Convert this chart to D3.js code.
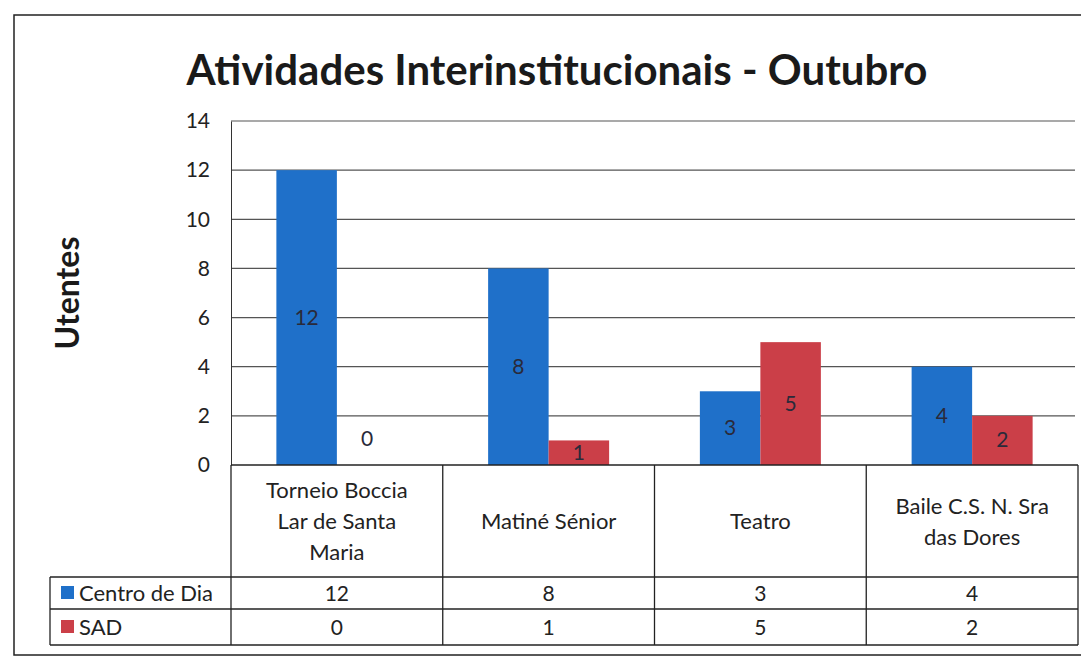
<!DOCTYPE html>
<html>
<head>
<meta charset="utf-8">
<script src="https://cdn.jsdelivr.net/npm/d3@7"></script>
<style>
  body { margin: 0; background: #fff; }
  svg { display: block; font-family: Lato, "Open Sans", sans-serif; }
</style>
</head>
<body>
<svg id="chart" width="1081" height="662"></svg>
<script>
// chart data
const categories = ["Torneio Boccia\nLar de Santa\nMaria", "Matiné Sénior", "Teatro", "Baile C.S. N. Sra\ndas Dores"];
const seriesNames = ["Centro de Dia", "SAD"];
const centroDia = [12, 8, 3, 4];
const sad = [0, 1, 5, 2];
const yTicks = [0, 2, 4, 6, 8, 10, 12, 14];
const colors = ["#1f70c9", "#cb3f48"];

const svg = d3.select("svg#chart");
const seriesValues = [centroDia, sad];

// layout
const plotLeft = 231, plotRight = 1078, plotTop = 121, plotBottom = 465;
const headerBottom = 577, row1Bottom = 609, tableBottom = 645, legendLeft = 50;

const y = d3.scaleLinear().domain([0, 14]).range([plotBottom, plotTop]);
const x0 = d3.scaleBand().domain(categories).range([plotLeft, plotRight]);
const x1 = d3.scaleBand().domain(seriesNames).range([0, x0.bandwidth()]).paddingOuter(0.75);

// outer frame
svg.append("rect")
    .attr("x", 14).attr("y", 15)
    .attr("width", 1100).attr("height", 640)
    .attr("fill", "none").attr("stroke", "#222").attr("stroke-width", 1.5);

// title
svg.append("text")
    .attr("x", 557).attr("y", 85)
    .attr("text-anchor", "middle")
    .attr("font-size", 42).attr("font-weight", "bold")
    .attr("fill", "#1a1a1a")
    .text("Atividades Interinstitucionais - Outubro");

// y axis title
svg.append("text")
    .attr("transform", "translate(79,293) rotate(-90)")
    .attr("text-anchor", "middle")
    .attr("font-size", 32).attr("font-weight", "bold")
    .attr("fill", "#1a1a1a")
    .text("Utentes");

// gridlines
svg.append("g").selectAll("line")
    .data(yTicks.filter(d => d > 0))
    .join("line")
    .attr("x1", plotLeft).attr("x2", plotRight - 3)
    .attr("y1", d => y(d)).attr("y2", d => y(d))
    .attr("stroke", "#555").attr("stroke-width", 1.2);

// y axis
const yAxis = svg.append("g")
    .attr("transform", `translate(${plotLeft},0)`)
    .call(d3.axisLeft(y).tickValues(yTicks).tickSize(0).tickPadding(21));
yAxis.select(".domain").attr("stroke", "#333");
yAxis.selectAll("text").attr("font-size", 21).attr("fill", "#222")
    .attr("font-family", "Lato, sans-serif");

// bars
const groups = svg.append("g").selectAll("g")
    .data(categories)
    .join("g")
    .attr("transform", d => `translate(${x0(d)},0)`);

groups.selectAll("rect")
    .data((d, i) => seriesNames.map((s, k) => ({ s, v: seriesValues[k][i] })))
    .join("rect")
    .attr("x", d => x1(d.s))
    .attr("width", x1.bandwidth())
    .attr("y", d => y(d.v))
    .attr("height", d => plotBottom - y(d.v))
    .attr("fill", (d, k) => colors[k]);

// bar value labels
groups.selectAll("text")
    .data((d, i) => seriesNames.map((s, k) => ({ s, v: seriesValues[k][i] })))
    .join("text")
    .attr("x", d => x1(d.s) + x1.bandwidth() / 2)
    .attr("y", d => d.v === 0 ? plotBottom - 19 : (y(d.v) + plotBottom) / 2 + 7)
    .attr("text-anchor", "middle")
    .attr("font-size", 21)
    .attr("fill", "#2a2a3a")
    .text(d => d.v);

// data table lines
const table = svg.append("g").attr("stroke", "#222").attr("stroke-width", 1.3);
table.append("line").attr("x1", plotLeft).attr("x2", plotRight).attr("y1", plotBottom).attr("y2", plotBottom);
[headerBottom, row1Bottom, tableBottom].forEach(yy =>
    table.append("line").attr("x1", legendLeft).attr("x2", plotRight).attr("y1", yy).attr("y2", yy));
table.append("line").attr("x1", legendLeft).attr("x2", legendLeft).attr("y1", headerBottom).attr("y2", tableBottom);
categories.forEach(c =>
    table.append("line").attr("x1", x0(c)).attr("x2", x0(c)).attr("y1", plotBottom).attr("y2", tableBottom));
table.append("line").attr("x1", plotRight).attr("x2", plotRight).attr("y1", plotBottom).attr("y2", tableBottom);

// category header labels
const headerMid = (plotBottom + headerBottom) / 2;
svg.append("g").selectAll("text")
    .data(categories)
    .join("text")
    .attr("text-anchor", "middle")
    .attr("font-size", 22).attr("fill", "#222")
    .each(function (d) {
        const lines = d.split("\n");
        const t = d3.select(this);
        lines.forEach((ln, i) => {
            t.append("tspan")
                .attr("x", x0(d) + x0.bandwidth() / 2)
                .attr("y", headerMid + 8 + (i - (lines.length - 1) / 2) * 31)
                .text(ln);
        });
    });

// series rows: legend keys + values
const rowMids = [(headerBottom + row1Bottom) / 2, (row1Bottom + tableBottom) / 2];
seriesNames.forEach((s, k) => {
    svg.append("rect")
        .attr("x", 61).attr("y", rowMids[k] - 7)
        .attr("width", 13).attr("height", 13)
        .attr("fill", colors[k]);
    svg.append("text")
        .attr("x", 79).attr("y", rowMids[k] + 8)
        .attr("font-size", 22).attr("fill", "#222")
        .text(s);
    svg.append("g").selectAll("text")
        .data(seriesValues[k])
        .join("text")
        .attr("x", (d, i) => x0(categories[i]) + x0.bandwidth() / 2)
        .attr("y", rowMids[k] + 8)
        .attr("text-anchor", "middle")
        .attr("font-size", 21).attr("fill", "#222")
        .text(d => d);
});
</script>
</body>
</html>
